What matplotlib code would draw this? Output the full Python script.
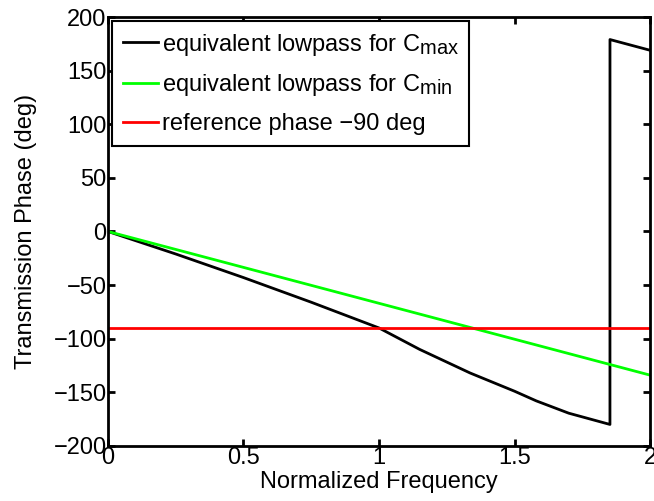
import numpy as np
import matplotlib
matplotlib.use("Agg")
import matplotlib.pyplot as plt
import matplotlib._mathtext as mathtext_internal

# black curve: equivalent lowpass for Cmax
freq_max = [0.0, 0.25, 0.5, 0.75, 1.0, 1.15, 1.336, 1.5, 1.58, 1.70, 1.852, 1.8521, 2.0]
phase_max = [0.0, -21.0, -43.0, -66.0, -90.0, -110.0, -132.0, -149.0, -158.0, -169.5, -180.0, 179.0, 169.0]

# green line: equivalent lowpass for Cmin
freq_min = [0.0, 2.0]
phase_min = [0.0, -134.0]

# red line: reference phase
freq_ref = [0.0, 2.0]
phase_ref = [-90.0, -90.0]

labels = [r"equivalent lowpass for C$_{\mathregular{max}}$",
          r"equivalent lowpass for C$_{\mathregular{min}}$",
          "reference phase \u221290 deg"]

# MATLAB subscripts are larger than the mathtext default
mathtext_internal.SHRINK_FACTOR = 0.85

plt.rcParams["font.family"] = ["Liberation Sans", "DejaVu Sans"]
plt.rcParams["mathtext.fontset"] = "custom"
plt.rcParams["mathtext.rm"] = "Liberation Sans"
plt.rcParams["mathtext.it"] = "Liberation Sans"
plt.rcParams["font.size"] = 17

fig = plt.figure(figsize=(6.54, 5.01), dpi=100)
ax = fig.add_axes([0.165, 0.110, 0.829, 0.856])

ax.plot(freq_max, phase_max, color="black", lw=2, label=labels[0])
ax.plot(freq_min, phase_min, color="#00ff00", lw=2, label=labels[1])
ax.plot(freq_ref, phase_ref, color="red", lw=2, label=labels[2])

ax.set_xlim(0, 2)
ax.set_ylim(-200, 200)
ax.set_xticks([0, 0.5, 1, 1.5, 2])
ax.set_xticklabels(["0", "0.5", "1", "1.5", "2"])
ax.set_yticks(np.arange(-200, 201, 50))
ax.set_yticklabels([str(v).replace("-", "\u2212") for v in range(-200, 201, 50)])
ax.tick_params(direction="in", top=True, right=True, width=2, length=5, pad=1)
for s in ax.spines.values():
    s.set_linewidth(2)

ax.set_xlabel("Normalized Frequency", labelpad=1)
ax.set_ylabel("Transmission Phase (deg)", labelpad=12)

leg = ax.legend(loc="upper left", fancybox=False, edgecolor="black",
                framealpha=1, handlelength=1.5, handletextpad=0.15,
                borderaxespad=0.17, borderpad=0.45, labelspacing=0.62)
leg.get_frame().set_linewidth(1.5)

fig.savefig("out.png", dpi=100)
